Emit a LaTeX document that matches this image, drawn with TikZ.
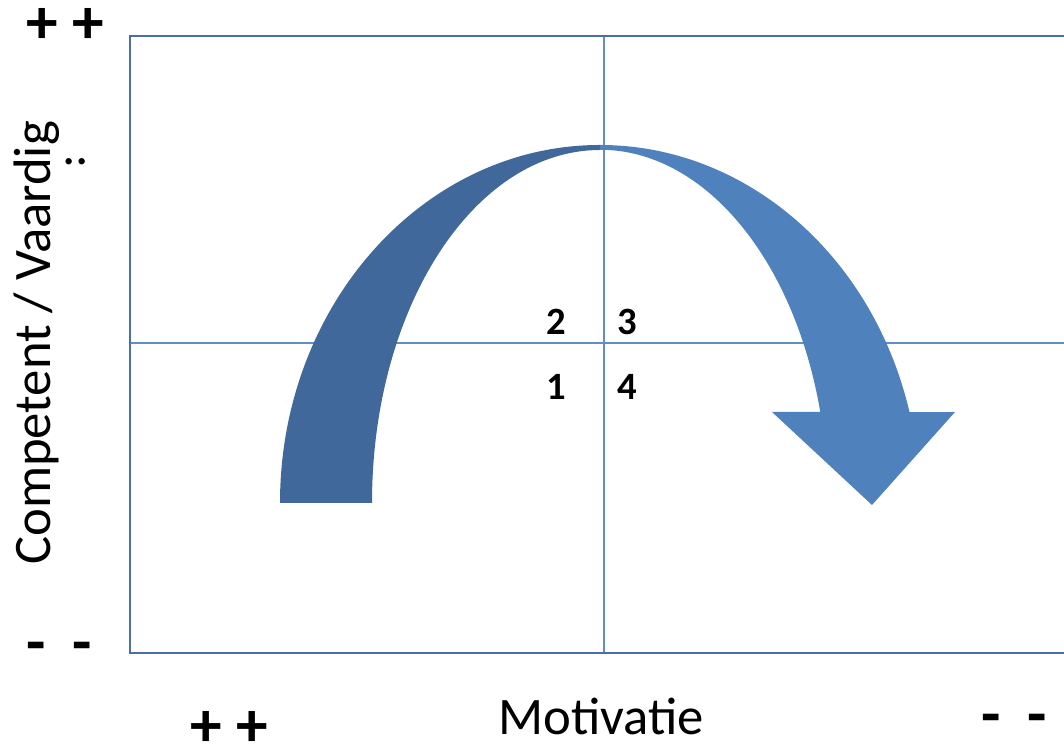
\documentclass[tikz,border=0pt]{standalone}
\usepackage{fontspec}
\setmainfont{Carlito}
\usetikzlibrary{positioning,calc}
\definecolor{frameblue}{RGB}{74,111,163}
\definecolor{gridblue}{RGB}{100,140,200}
\definecolor{arrowdark}{RGB}{65,104,154}
\definecolor{arrowlight}{RGB}{79,129,189}

\begin{document}
\begin{tikzpicture}[
  x=0.02cm, y=0.02cm,
  axislbl/.style={font=\fontsize{30}{33}\selectfont, inner sep=0pt},
  sign/.style={font=\fontsize{36}{38}\selectfont\bfseries, inner sep=0pt,
    anchor=base, text height=0.6em, text depth=0pt},
  num/.style={font=\fontsize{22}{24}\selectfont\bfseries, inner sep=0pt},
  frame/.style={draw=frameblue, line width=1.1pt},
  grid/.style={draw=gridblue, line width=0.8pt}
]
  \useasboundingbox (0,0) rectangle (1064,749);

  % quadrant frame
  \coordinate (tl) at (130,713);
  \coordinate (br) at (1070,96);
  \coordinate (top) at (604,713);
  \coordinate (bot) at (604,96);
  \coordinate (west) at (130,406);
  \coordinate (east) at (1070,406);
  \draw[grid] (top) -- (bot);
  \draw[grid] (west) -- (east);
  \draw[frame] (tl) rectangle (br);

  % curved arrow, back half and front half
  \fill[arrowdark] (280,246) arc[start angle=180, end angle=90, x radius=320, y radius=358]
    -- (600,599) arc[start angle=90, end angle=180, x radius=228, y radius=353] -- cycle;
  \fill[arrowlight] (600,604) arc[start angle=90, end angle=14.7, x radius=320, y radius=358]
    -- (955,337) -- (872,244) -- (772,337) -- (820.3,337)
    arc[start angle=14.9, end angle=90, x radius=228, y radius=353] -- cycle;

  % quadrant numbers
  \node[num] (q2) at (556,427) {2};
  \node[num] (q3) at (627,427) {3};
  \node[num] (q1) at (556,362) {1};
  \node[num] (q4) at (627,362) {4};

  % axis labels
  \node[axislbl, rotate=90] (compet) at (37,406) {Competent / Vaardig};
  \node[axislbl, anchor=base] (dots) at (76,584) {..};
  \node[axislbl] (motiv) at (601,33) {Motivatie};
  \node[sign] (ytop) at (65,705) {+ +};
  \node[sign] (ybot) at (59,85) {-\hspace{0.42em}-};
  \node[sign] (xleft) at (229,2) {+ +};
  \node[sign] (xright) at (1014,13) {-\hspace{0.42em}-};
\end{tikzpicture}
\end{document}
